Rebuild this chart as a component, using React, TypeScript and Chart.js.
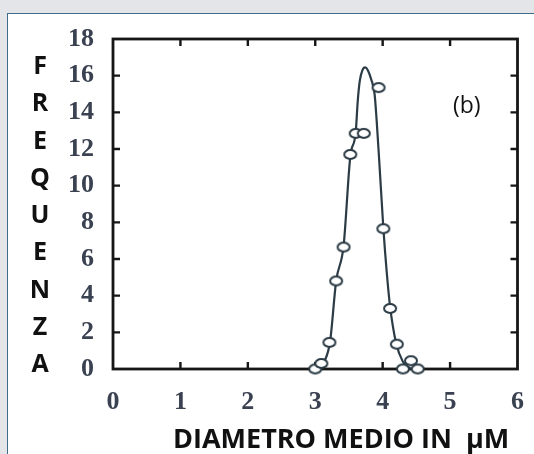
import React, { useEffect, useRef } from "react";
import { Chart, registerables } from "chart.js";

Chart.register(...registerables);

// Measured points (diameter in µm, frequency)
const diameters = [3.0, 3.09, 3.21, 3.31, 3.42, 3.52, 3.6, 3.72, 3.94, 4.01, 4.11, 4.21, 4.3, 4.42, 4.52];
const frequencies = [0, 0.3, 1.45, 4.8, 6.65, 11.7, 12.85, 12.85, 15.35, 7.65, 3.3, 1.35, 0, 0.45, 0];

// Fitted curve
const fitDiameters = [3.05, 3.14, 3.22, 3.31, 3.42, 3.52, 3.6, 3.63, 3.66, 3.7, 3.74, 3.78, 3.83, 3.88, 3.91, 3.95, 4.01, 4.06, 4.11, 4.2, 4.3, 4.42];
const fitFrequencies = [0, 0.45, 1.5, 4.8, 6.7, 11.6, 12.9, 14.6, 15.7, 16.3, 16.45, 16.3, 15.8, 15.0, 13.6, 11.3, 7.7, 5.3, 3.4, 1.4, 0.4, 0];

const xMin = 0;
const xMax = 6;
const xStep = 1;
const yMin = 0;
const yMax = 18;
const yStep = 2;

const yTitleLetters = ["F", "R", "E", "Q", "U", "E", "N", "Z", "A"];
const xTitle = "DIAMETRO MEDIO IN  µM";
const panelLabel = "(b)";

const INK = "#2c3c46";

function makeEllipse(): HTMLCanvasElement {
  const c = document.createElement("canvas");
  c.width = 16;
  c.height = 13;
  const g = c.getContext("2d")!;
  g.beginPath();
  g.ellipse(8, 6.5, 6.0, 4.4, 0, 0, Math.PI * 2);
  g.fillStyle = "#ffffff";
  g.fill();
  g.lineWidth = 2;
  g.strokeStyle = INK;
  g.stroke();
  return c;
}

const framePlugin = {
  id: "frame",
  beforeDatasetsDraw(chart: any) {
    const { ctx, chartArea: a, scales } = chart;
    const xs = scales.x;
    const ys = scales.y;
    ctx.save();
    ctx.strokeStyle = "#161616";
    ctx.lineWidth = 2.8;
    ctx.strokeRect(a.left, a.top, a.right - a.left, a.bottom - a.top);
    ctx.lineWidth = 2.4;
    const tl = 7;
    ctx.beginPath();
    xs.ticks.forEach((t: any) => {
      if (t.value <= xs.min || t.value >= xs.max) return;
      const px = xs.getPixelForValue(t.value);
      ctx.moveTo(px, a.bottom);
      ctx.lineTo(px, a.bottom - tl);
      ctx.moveTo(px, a.top);
      ctx.lineTo(px, a.top + tl);
    });
    ys.ticks.forEach((t: any) => {
      if (t.value <= ys.min || t.value >= ys.max) return;
      const py = ys.getPixelForValue(t.value);
      ctx.moveTo(a.left, py);
      ctx.lineTo(a.left + tl, py);
      ctx.moveTo(a.right, py);
      ctx.lineTo(a.right - tl, py);
    });
    ctx.stroke();
    ctx.restore();
  },
};

export default function App() {
  const ref = useRef<HTMLCanvasElement | null>(null);

  useEffect(() => {
    if (!ref.current) return;
    const ellipse = makeEllipse();
    const tickFont = { family: "'Liberation Serif', 'Times New Roman', serif", size: 26, weight: "bold" as const };
    const chart = new Chart(ref.current, {
      type: "scatter",
      data: {
        datasets: [
          {
            type: "scatter",
            data: diameters.map((d, i) => ({ x: d, y: frequencies[i] })),
            pointStyle: ellipse as any,
            pointRadius: 6,
            order: 0,
            clip: false as any,
          },
          {
            type: "line",
            data: fitDiameters.map((d, i) => ({ x: d, y: fitFrequencies[i] })),
            borderColor: INK,
            borderWidth: 2.2,
            pointRadius: 0,
            fill: false,
            cubicInterpolationMode: "monotone",
            order: 1,
            clip: false as any,
          },
        ],
      },
      options: {
        animation: false,
        responsive: false,
        devicePixelRatio: 1,
        layout: { padding: { left: 0, top: 39, right: 9, bottom: 0 } },
        plugins: { legend: { display: false }, tooltip: { enabled: false } },
        scales: {
          x: {
            type: "linear",
            min: xMin,
            max: xMax,
            afterFit: (s: any) => {
              s.height = 85;
            },
            grid: { display: false },
            border: { display: false },
            ticks: { stepSize: xStep, padding: 10, color: "#3a4150", font: tickFont },
          },
          y: {
            type: "linear",
            min: yMin,
            max: yMax,
            afterFit: (s: any) => {
              s.width = 113;
            },
            grid: { display: false },
            border: { display: false },
            ticks: { stepSize: yStep, padding: 11, color: "#3a4150", font: tickFont },
          },
        },
      },
      plugins: [framePlugin],
    });
    return () => chart.destroy();
  }, []);

  return (
    <div
      style={{
        position: "fixed",
        left: 0,
        top: 0,
        width: 534,
        height: 454,
        background: "#e3e5e9",
        overflow: "hidden",
      }}
    >
      <div
        style={{
          position: "absolute",
          left: 7,
          top: 13,
          width: 540,
          height: 460,
          background: "#ffffff",
          border: "1px solid #3f6c88",
        }}
      />
      <canvas
        ref={ref}
        width={534}
        height={454}
        style={{ position: "absolute", left: 0, top: 0, width: 534, height: 454 }}
      />
      <div
        style={{
          position: "absolute",
          left: 23,
          top: 46,
          width: 34,
          textAlign: "center",
          fontFamily: "'Open Sans', Lato, sans-serif",
          fontWeight: 700,
          fontSize: 25,
          lineHeight: "37.3px",
          color: "#111111",
        }}
      >
        {yTitleLetters.map((l, i) => (
          <div key={i}>{l}</div>
        ))}
      </div>
      <div
        style={{
          position: "absolute",
          left: 173,
          top: 422,
          whiteSpace: "pre",
          fontFamily: "'Open Sans', Lato, sans-serif",
          fontWeight: 700,
          fontSize: 27,
          lineHeight: "32px",
          color: "#111111",
        }}
      >
        {xTitle}
      </div>
      <div
        style={{
          position: "absolute",
          left: 453,
          top: 89,
          whiteSpace: "pre",
          fontFamily: "'Open Sans', Lato, sans-serif",
          fontSize: 23,
          lineHeight: "30px",
          color: "#111111",
        }}
      >
        {panelLabel}
      </div>
    </div>
  );
}
